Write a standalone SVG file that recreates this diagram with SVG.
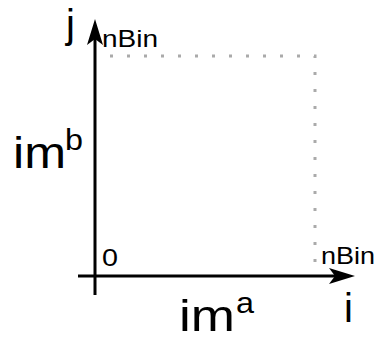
<svg xmlns="http://www.w3.org/2000/svg" width="375" height="339" viewBox="0 0 375 339">
<style>
.ax{stroke:#000;stroke-width:3;fill:none}
.dot{stroke:#aaa;stroke-width:3;fill:none;stroke-dasharray:3 14}
text{font-family:"Liberation Sans",Arial,sans-serif;fill:#000}
.big{font-size:44px}
.sup{font-size:29px}
.mid{font-size:40px}
.sm{font-size:24px}
</style>
<g id="guides">
<path class="dot" d="M110,56 H315 V276"/>
</g>
<g id="connectors">
<path class="ax" d="M95,295 V28" />
<path d="M95,19 L103,45 L95,39 L87,45 Z" fill="#000"/>
<path class="ax" d="M78,276 H345" />
<path d="M355,276 L329,284 L335,276 L329,268 Z" fill="#000"/>
</g>
<g id="labels">
<text class="mid" x="66" y="38">j</text>
<text class="sm" x="102" y="47" textLength="56" lengthAdjust="spacingAndGlyphs">nBin</text>
<text class="big" x="13" y="168" textLength="53" lengthAdjust="spacingAndGlyphs">im</text>
<text class="sup" x="65" y="150" textLength="18" lengthAdjust="spacingAndGlyphs">b</text>
<text class="sm" x="102" y="266" textLength="16" lengthAdjust="spacingAndGlyphs">0</text>
<text class="sm" x="321" y="264" textLength="54" lengthAdjust="spacingAndGlyphs">nBin</text>
<text class="big" x="179" y="331" textLength="56" lengthAdjust="spacingAndGlyphs">im</text>
<text class="sup" x="236" y="313" textLength="18" lengthAdjust="spacingAndGlyphs">a</text>
<text class="mid" x="344" y="322">i</text>
</g>
</svg>
